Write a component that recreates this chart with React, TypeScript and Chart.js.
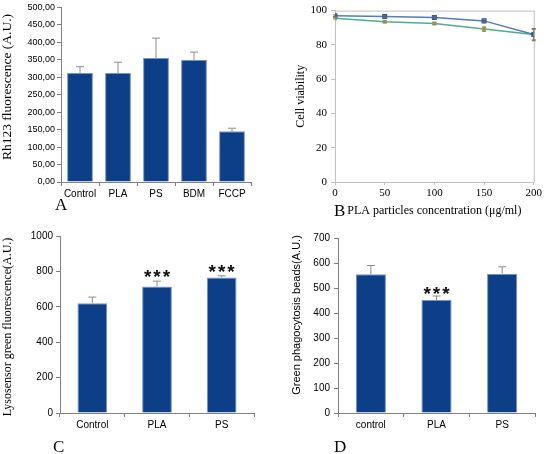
import React, { useEffect, useRef } from "react";
import { Chart, registerables } from "chart.js";

Chart.register(...registerables);

// ---------- Data ----------
const aCategories = ["Control", "PLA", "PS", "BDM", "FCCP"];
const aValues = [312, 312, 355, 350, 145];
const aErrors = [18, 31, 57, 22, 9];

const bConcentrations = [0, 50, 100, 150, 200];
const bSeriesBlue = [97, 96.5, 96, 94, 86];
const bSeriesBlueErr = [0.5, 0.5, 0.5, 0.6, 3.6];
const bSeriesGreen = [95.5, 93.5, 92.5, 89.2, 86];
const bSeriesGreenErr = [0.4, 0.5, 0.6, 1.3, 3];

const cCategories = ["Control", "PLA", "PS"];
const cValues = [620, 715, 765];
const cErrors = [35, 30, 10];
const cStars = ["", "***", "***"];

const dCategories = ["control", "PLA", "PS"];
const dValues = [555, 452, 557];
const dErrors = [35, 16, 28];
const dStars = ["", "***", ""];

// ---------- Styles ----------
const BAR = "#0c3f88";
const BAR_EDGE = "#7396cc";
const AXIS = "#808080";
const FRAME = "#c0c0c0";
const SANS = "'Liberation Sans', Arial, sans-serif";
const SERIF = "'Liberation Serif', 'Times New Roman', serif";

// ---------- Plugins ----------
const errorBarsPlugin = {
  id: "errorBars",
  afterDatasetsDraw(chart: any, _args: any, opts: any) {
    if (!opts || !opts.sets) return;
    const ctx = chart.ctx;
    const yScale = chart.scales.y;
    opts.sets.forEach((errs: number[], di: number) => {
      const meta = chart.getDatasetMeta(di);
      const ds = chart.data.datasets[di];
      meta.data.forEach((el: any, i: number) => {
        const e = errs[i];
        if (!e) return;
        const raw = ds.data[i];
        const val = typeof raw === "number" ? raw : raw.y;
        const x = el.x;
        const yTop = yScale.getPixelForValue(val + e);
        const yBot = opts.both ? yScale.getPixelForValue(val - e) : yScale.getPixelForValue(val);
        const cap = opts.cap || 3;
        ctx.save();
        ctx.strokeStyle = (opts.colors && opts.colors[di]) || "#888";
        ctx.lineWidth = 1;
        ctx.beginPath();
        ctx.moveTo(x, yBot);
        ctx.lineTo(x, yTop);
        ctx.moveTo(x - cap, yTop);
        ctx.lineTo(x + cap, yTop);
        if (opts.both) {
          ctx.moveTo(x - cap, yBot);
          ctx.lineTo(x + cap, yBot);
        }
        ctx.stroke();
        ctx.restore();
      });
    });
  },
};

const starsPlugin = {
  id: "stars",
  afterDatasetsDraw(chart: any, _args: any, opts: any) {
    if (!opts || !opts.labels) return;
    const ctx = chart.ctx;
    const yScale = chart.scales.y;
    const meta = chart.getDatasetMeta(0);
    const ds = chart.data.datasets[0];
    meta.data.forEach((el: any, i: number) => {
      const t = opts.labels[i];
      if (!t) return;
      const top = yScale.getPixelForValue(ds.data[i] + (opts.errors[i] || 0));
      ctx.save();
      ctx.fillStyle = "#111";
      ctx.font = opts.font;
      (ctx as any).letterSpacing = "2px";
      ctx.textAlign = "center";
      ctx.textBaseline = "alphabetic";
      ctx.fillText(t, el.x + 1, top - opts.gap + 11);
      ctx.restore();
    });
  },
};

const yTitlePlugin = {
  id: "yTitle",
  afterDraw(chart: any, _args: any, opts: any) {
    if (!opts || !opts.text) return;
    const ctx = chart.ctx;
    ctx.save();
    ctx.translate(opts.x, opts.y);
    ctx.rotate(-Math.PI / 2);
    ctx.font = opts.font;
    ctx.fillStyle = "#000";
    ctx.textAlign = "center";
    ctx.textBaseline = "middle";
    ctx.fillText(opts.text, 0, 0);
    ctx.restore();
  },
};

const letterPlugin = {
  id: "letter",
  afterDraw(chart: any, _args: any, opts: any) {
    if (!opts || !opts.text) return;
    const ctx = chart.ctx;
    ctx.save();
    ctx.font = `17px ${SERIF}`;
    ctx.fillStyle = "#000";
    ctx.textAlign = "left";
    ctx.textBaseline = "alphabetic";
    ctx.fillText(opts.text, opts.x, opts.y);
    ctx.restore();
  },
};

const framePlugin = {
  id: "frame",
  beforeDatasetsDraw(chart: any, _args: any, opts: any) {
    if (!opts || !opts.color) return;
    const { left, top, right, bottom } = chart.chartArea;
    const ctx = chart.ctx;
    ctx.save();
    ctx.strokeStyle = opts.color;
    ctx.lineWidth = 1;
    ctx.strokeRect(left + 0.5, top + 0.5, right - left, bottom - top);
    ctx.restore();
  },
};

// ---------- Config builders ----------
function barScales(opts: {
  yMax: number;
  yStep: number;
  yWidth: number;
  xHeight: number;
  yTickSize: number;
  yPad: number;
  yFmt?: (v: number) => string;
}) {
  return {
    x: {
      grid: { display: true, drawOnChartArea: false, tickLength: 4, color: AXIS, offset: true },
      border: { color: AXIS },
      ticks: {
        font: { family: SANS, size: 10 },
        color: "#000",
        padding: 2,
        maxRotation: 0,
        minRotation: 0,
        autoSkip: false,
      },
      afterFit: (s: any) => {
        s.height = opts.xHeight;
      },
    },
    y: {
      min: 0,
      max: opts.yMax,
      grid: { display: true, drawOnChartArea: false, tickLength: 4, color: AXIS },
      border: { color: AXIS },
      ticks: {
        stepSize: opts.yStep,
        font: { family: SANS, size: opts.yTickSize },
        color: "#000",
        padding: opts.yPad,
        callback: opts.yFmt ? (v: any) => opts.yFmt!(Number(v)) : (v: any) => String(v),
      },
      afterFit: (s: any) => {
        s.width = opts.yWidth;
      },
    },
  };
}

function configA(): any {
  return {
    type: "bar",
    data: {
      labels: aCategories,
      datasets: [
        {
          data: aValues,
          backgroundColor: BAR,
          borderColor: BAR_EDGE,
          borderWidth: 1,
          categoryPercentage: 1,
          barPercentage: 0.68,
        },
      ],
    },
    options: {
      animation: false,
      responsive: false,
      layout: { padding: { left: 0, top: 6, right: 21, bottom: 0 } },
      plugins: {
        legend: { display: false },
        tooltip: { enabled: false },
        errorBars: { sets: [aErrors], both: false, colors: ["#8c8c8c"], cap: 4 },
        yTitle: { text: "Rh123 fluorescence (A.U.)", x: 7, y: 87, font: `13.5px ${SERIF}` },
        letter: { text: "A", x: 55, y: 210 },
      },
      scales: barScales({
        yMax: 500,
        yStep: 50,
        yWidth: 61,
        xHeight: 45,
        yTickSize: 9,
        yPad: 2,
        yFmt: (v) => v.toFixed(2).replace(".", ","),
      }),
    },
    plugins: [errorBarsPlugin, yTitlePlugin, letterPlugin],
  };
}

function configB(): any {
  return {
    type: "line",
    data: {
      datasets: [
        {
          data: bConcentrations.map((x, i) => ({ x, y: bSeriesBlue[i] })),
          borderColor: "#4f7cc4",
          borderWidth: 1.5,
          pointStyle: "rect",
          pointRadius: 2.5,
          pointBackgroundColor: "#2d5eaa",
          pointBorderColor: "#2d5eaa",
          tension: 0,
        },
        {
          data: bConcentrations.map((x, i) => ({ x, y: bSeriesGreen[i] })),
          borderColor: "#4bb08c",
          borderWidth: 1.5,
          pointStyle: "rect",
          pointRadius: 1.8,
          pointBackgroundColor: "#c09a4a",
          pointBorderColor: "#c09a4a",
          tension: 0,
        },
      ],
    },
    options: {
      animation: false,
      responsive: false,
      layout: { padding: { left: 22, top: 6, right: 9, bottom: 0 } },
      plugins: {
        legend: { display: false },
        tooltip: { enabled: false },
        errorBars: { sets: [bSeriesBlueErr, bSeriesGreenErr], both: true, colors: ["#6a6a6a", "#8a8a5a"], cap: 2 },
        frame: { color: FRAME },
        letter: { text: "B", x: 62, y: 216 },
      },
      scales: {
        x: {
          type: "linear",
          min: 0,
          max: 200,
          grid: { display: true, drawOnChartArea: false, tickLength: 3, color: FRAME },
          border: { color: FRAME },
          ticks: { stepSize: 50, font: { family: SERIF, size: 11 }, color: "#000", padding: 2 },
          title: {
            display: true,
            text: "PLA particles concentration (μg/ml)",
            font: { family: SERIF, size: 12 },
            color: "#000",
            padding: { top: 0, bottom: 9 },
          },
          afterFit: (s: any) => {
            s.height = 45;
          },
        },
        y: {
          min: 0,
          max: 100,
          grid: { display: true, drawOnChartArea: false, tickLength: 4, color: FRAME },
          border: { color: FRAME },
          ticks: { stepSize: 20, font: { family: SERIF, size: 11 }, color: "#000", padding: 4 },
          title: {
            display: true,
            text: "Cell viability",
            font: { family: SERIF, size: 12 },
            color: "#000",
            padding: { top: 0, bottom: 0 },
          },
          afterFit: (s: any) => {
            s.width = 41;
          },
        },
      },
    },
    plugins: [framePlugin, errorBarsPlugin, letterPlugin],
  };
}

function configC(): any {
  return {
    type: "bar",
    data: {
      labels: cCategories,
      datasets: [
        {
          data: cValues,
          backgroundColor: BAR,
          borderColor: BAR_EDGE,
          borderWidth: 1,
          categoryPercentage: 1,
          barPercentage: 0.46,
        },
      ],
    },
    options: {
      animation: false,
      responsive: false,
      layout: { padding: { left: 0, top: 8, right: 18, bottom: 0 } },
      plugins: {
        legend: { display: false },
        tooltip: { enabled: false },
        errorBars: { sets: [cErrors], both: false, colors: ["#8c8c8c"], cap: 4 },
        stars: { labels: cStars, errors: cErrors, font: `bold 19px ${SANS}`, gap: 9 },
        yTitle: { text: "Lysosensor green fluorescence(A.U.)", x: 8, y: 100, font: `12px ${SERIF}` },
        letter: { text: "C", x: 53, y: 225 },
      },
      scales: barScales({ yMax: 1000, yStep: 200, yWidth: 60, xHeight: 41, yTickSize: 10, yPad: 3 }),
    },
    plugins: [errorBarsPlugin, starsPlugin, yTitlePlugin, letterPlugin],
  };
}

function configD(): any {
  return {
    type: "bar",
    data: {
      labels: dCategories,
      datasets: [
        {
          data: dValues,
          backgroundColor: BAR,
          borderColor: BAR_EDGE,
          borderWidth: 1,
          categoryPercentage: 1,
          barPercentage: 0.46,
        },
      ],
    },
    options: {
      animation: false,
      responsive: false,
      layout: { padding: { left: 0, top: 11, right: 9, bottom: 0 } },
      plugins: {
        legend: { display: false },
        tooltip: { enabled: false },
        errorBars: { sets: [dErrors], both: false, colors: ["#8c8c8c"], cap: 4 },
        stars: { labels: dStars, errors: dErrors, font: `bold 19px ${SANS}`, gap: 7 },
        yTitle: { text: "Green phagocytosis beads(A.U.)", x: 25, y: 88, font: `11px ${SANS}` },
        letter: { text: "D", x: 62, y: 225 },
      },
      scales: barScales({ yMax: 700, yStep: 100, yWidth: 66, xHeight: 41, yTickSize: 10, yPad: 4 }),
    },
    plugins: [errorBarsPlugin, starsPlugin, yTitlePlugin, letterPlugin],
  };
}

function Panel({ left, top, build }: { left: number; top: number; build: () => any }) {
  const ref = useRef<HTMLCanvasElement | null>(null);
  useEffect(() => {
    if (!ref.current) return;
    const chart = new Chart(ref.current, build());
    return () => chart.destroy();
  }, []);
  return (
    <canvas
      ref={ref}
      width={272}
      height={227}
      style={{ position: "absolute", left, top, width: 272, height: 227 }}
    />
  );
}

export default function App() {
  return (
    <div
      style={{
        position: "absolute",
        left: 0,
        top: 0,
        width: 544,
        height: 454,
        background: "#fff",
        overflow: "hidden",
      }}
    >
      <Panel left={0} top={0} build={configA} />
      <Panel left={272} top={0} build={configB} />
      <Panel left={0} top={227} build={configC} />
      <Panel left={272} top={227} build={configD} />
    </div>
  );
}
